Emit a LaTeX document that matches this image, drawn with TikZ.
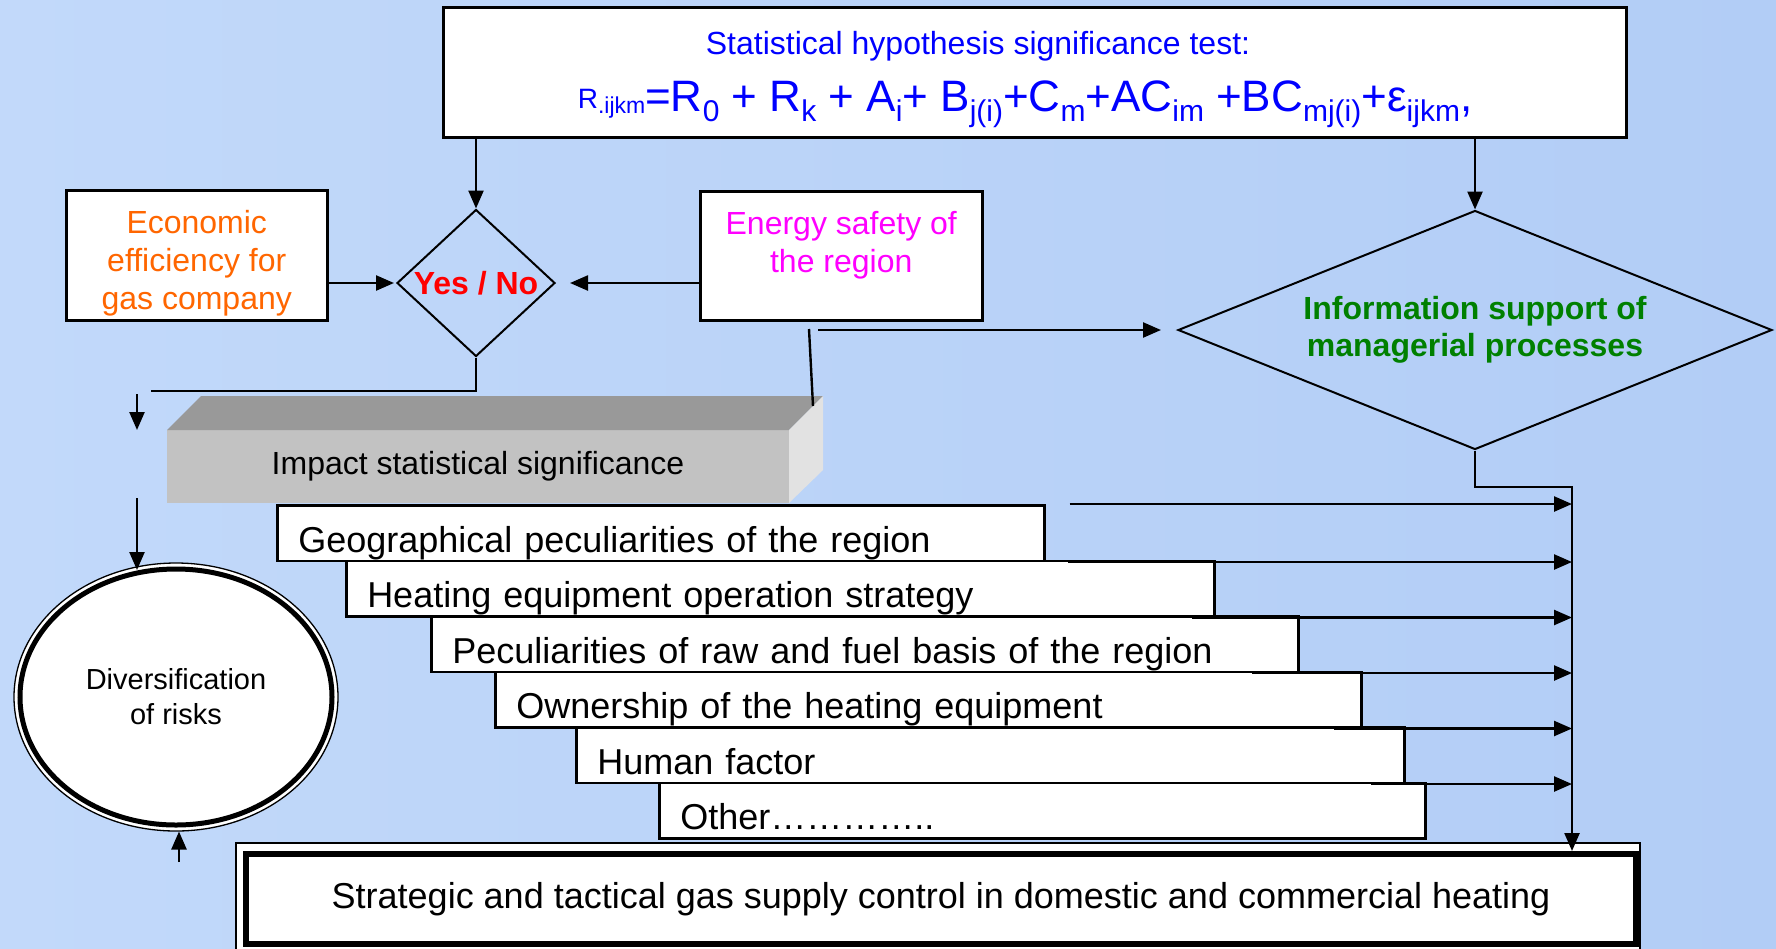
\documentclass[tikz,border=0pt]{standalone}
\usepackage{fontspec}
\setmainfont{Liberation Sans}
\usetikzlibrary{shapes.geometric,arrows.meta}
\definecolor{bgA}{RGB}{194,217,250}
\definecolor{bgB}{RGB}{178,205,246}
\definecolor{txtblue}{RGB}{0,0,255}
\definecolor{txtorange}{RGB}{255,102,0}
\definecolor{txtmag}{RGB}{255,0,255}
\definecolor{txtred}{RGB}{255,0,0}
\definecolor{txtgreen}{RGB}{0,128,0}
\definecolor{topface}{RGB}{153,153,153}
\definecolor{frontface}{RGB}{194,194,194}
\definecolor{sideface}{RGB}{226,226,226}
\newcommand\fsub[1]{\lower10pt\hbox{\fontsize{30pt}{30pt}\selectfont #1}}
\begin{document}
\begin{tikzpicture}[x=1pt,y=-1pt,
  conn/.style={line width=2.4pt,draw=black},
  arr/.style={conn,-{Triangle[length=18pt,width=15pt]}},
  whitebox/.style={draw=black,line width=2.5pt,fill=white,inner sep=0pt},
  f36/.style={font=\fontsize{36pt}{43pt}\selectfont},
  f32/.style={font=\fontsize{32pt}{38pt}\selectfont},
  f29/.style={font=\fontsize{29pt}{35pt}\selectfont},
  factorbox/.style={whitebox,f36,anchor=north west,align=left,text height=38pt,text depth=0pt,minimum height=55.5pt,inner xsep=21pt},
  decision/.style={diamond,draw=black,line width=2pt,inner sep=0pt,f32,align=center}
]
\useasboundingbox (0,0) rectangle (1776,948);
\clip (0,0) rectangle (1776,948);
\shade[left color=bgA,right color=bgB] (0,0) rectangle (1776,948);

% top box
\node[whitebox,anchor=north west,minimum width=1183pt,minimum height=130pt] (top) at (442,6) {};
\node[anchor=base,f32,text=txtblue,inner sep=0pt] (title) at (978,54) {Statistical hypothesis significance test:};
\node[anchor=base,text=txtblue,font=\fontsize{44pt}{50pt}\selectfont,inner sep=0pt] (formula) at (1025,111)
 {\raise3pt\hbox{\fontsize{28pt}{28pt}\selectfont R\lower5pt\hbox{\fontsize{23pt}{23pt}\selectfont .ijkm}}=R\fsub{0} + R\fsub{k} + A\fsub{i}+ B\fsub{j(i)}+C\fsub{m}+AC\fsub{im} +BC\fsub{mj(i)}+ε\fsub{ijkm},};

% decision diamonds
\node[decision,text=txtred,font=\fontsize{32pt}{37pt}\selectfont\bfseries,minimum width=158pt,minimum height=147pt,aspect=1.07] (yn) at (476,283) {Yes / No};
\node[decision,text=txtgreen,font=\fontsize{32pt}{37pt}\selectfont\bfseries,minimum width=594pt,minimum height=239pt,aspect=2.49] (info) at (1475,330) {Information support of\\managerial processes};

% side boxes
\node[whitebox,anchor=north west,minimum width=261pt,minimum height=130pt,f32,text=txtorange,align=center] (econ) at (65,189) {\rule{0pt}{39pt}Economic\\efficiency for\\gas company};
\node[whitebox,anchor=north west,minimum width=282pt,minimum height=129pt,f32,text=txtmag,align=center] (energy) at (699,190) {\rule{0pt}{33pt}Energy safety of\\the region\\\mbox{}};

% 3D bar
\node[fill=frontface,anchor=north west,minimum width=622pt,minimum height=73pt,inner sep=0pt,outer sep=0pt,f32] (imp) at (167,430) {Impact statistical significance};
\fill[topface] (imp.north west) -- ++(34,-34) -- ([shift={(34,-34)}]imp.north east) -- (imp.north east) -- cycle;
\fill[sideface] (imp.north east) -- ++(34,-34) -- ([shift={(34,-33)}]imp.south east) -- (imp.south east) -- cycle;

% factor boxes
\node[factorbox,text width=725pt] (geo) at (276,504) {Geographical peculiarities of the region};
\node[factorbox,text width=826pt] (heat) at (345,559.5) {Heating equipment operation strategy};
\node[factorbox,text width=825pt] (pec) at (430,615) {Peculiarities of raw and fuel basis of the region};
\node[factorbox,text width=824pt] (own) at (494,670.5) {Ownership of the heating equipment};
\node[factorbox,text width=786pt] (hum) at (575,726) {Human factor};
\node[factorbox,text width=724pt] (oth) at (658,781.5) {Other…………..};

% ellipse
\draw[line width=1.3pt,fill=white] (176,697) ellipse [x radius=162, y radius=134];
\node[ellipse,draw=black,line width=5pt,fill=white,minimum width=312pt,minimum height=256pt,inner sep=0pt,f29,align=center] (div) at (176,697) {Diversification\\of risks};

% bottom box
\draw[line width=1.3pt,fill=white] (236,843) rectangle (1640,960);
\node[draw=black,line width=6pt,fill=white,anchor=north west,minimum width=1390pt,minimum height=90pt,inner sep=0pt,f36] (bot) at (243,851) {Strategic and tactical gas supply control in domestic and commercial heating};

% connectors
\draw[arr] (top.south -| yn.north) -- (yn.north);
\draw[arr] (top.south -| info.north) -- (info.north);
\draw[arr,shorten >=2pt] (econ.east |- yn.west) -- (yn.west);
\draw[arr,shorten >=14pt] (energy.west |- yn.east) -- (yn.east);
\coordinate (ynL) at (151,391);
\draw[conn] (yn.south) |- (ynL);
\coordinate (a1s) at (137,394);
\coordinate (a1e) at (137,430);
\draw[arr] (a1s) -- (a1e);
\coordinate (e1) at (809,329);
\coordinate (e2) at (813,406);
\draw[conn] (e1) -- (e2);
\coordinate (e3) at (818,330);
\draw[arr,shorten >=16pt] (e3) -- (e3 -| info.west);
\coordinate (a2s) at (137,498);
\draw[arr] (a2s) -- (a2s |- div.106);
\coordinate (a3s) at (179,862);
\draw[arr] (a3s) -- ([yshift=-4pt]a3s |- div.south);
\coordinate (busTop) at (1572,487);
\draw[arr] (info.south) |- (busTop) -- (busTop |- bot.north);
\draw[arr] ([xshift=24pt]geo.north east) -- (geo.north east -| busTop);
\draw[arr] ([xshift=22pt]geo.south east) -- (geo.south east -| busTop);
\draw[arr] ([xshift=-24pt]heat.south east) -- (heat.south east -| busTop);
\draw[arr] ([xshift=-48pt]pec.south east) -- (pec.south east -| busTop);
\draw[arr] ([xshift=-29pt]own.south east) -- (own.south east -| busTop);
\draw[arr] ([xshift=-35pt]hum.south east) -- (hum.south east -| busTop);
\end{tikzpicture}
\end{document}
